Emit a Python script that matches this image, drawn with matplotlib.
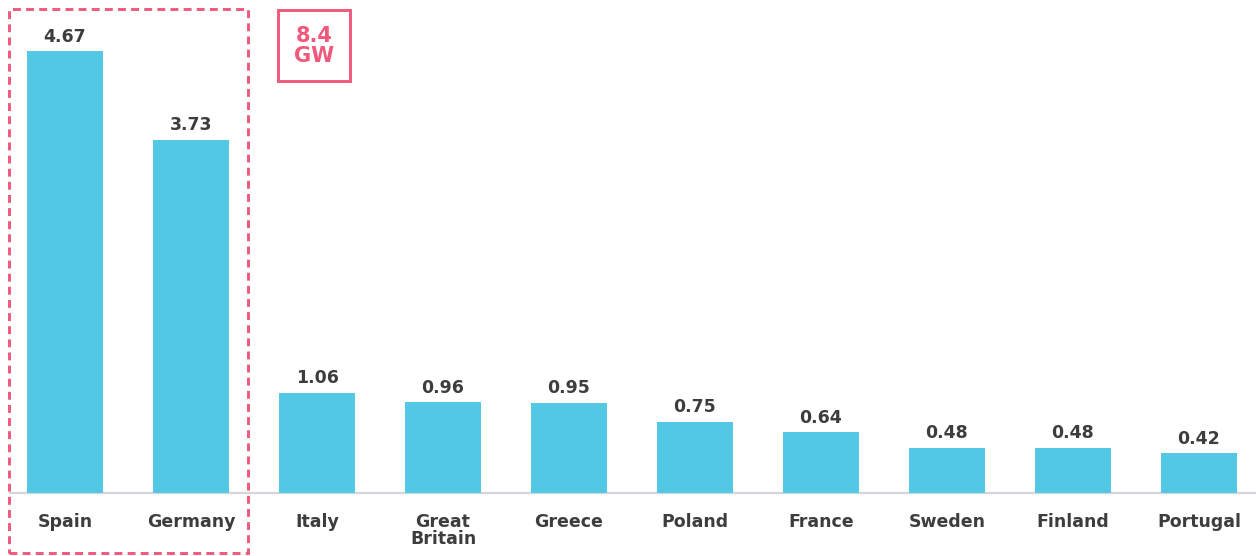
import matplotlib.pyplot as plt
from matplotlib.patches import Rectangle
import numpy as np

paises = ["Spain", "Germany", "Italy", "Great\nBritain", "Greece", "Poland",
          "France", "Sweden", "Finland", "Portugal"]
valores = [4.67, 3.73, 1.06, 0.96, 0.95, 0.75, 0.64, 0.48, 0.48, 0.42]
total_destaque = "8.4\nGW"

azul = "#53c8e4"
rosa = "#f0587c"
texto = "#3d3d3d"

plt.rcParams["font.family"] = ["DejaVu Sans"]

fig = plt.figure(figsize=(12.56, 5.56), dpi=100)
ax = fig.add_axes([0, 63 / 556, 1, 493 / 556])

x = np.arange(len(paises))
barras = ax.bar(x, valores, width=0.6, color=azul, zorder=2)

for xi, v in zip(x, valores):
    ax.text(xi, v + 0.06, f"{v:.2f}", ha="center", va="bottom",
            fontsize=12.5, fontweight="heavy", color=texto)

ax.set_xlim(-65 / 126, (1256 - 65) / 126)
ax.set_ylim(0, 493 / 94.6)
ax.axis("off")

# linha de base
ax.plot([-55 / 126, (1256 - 65) / 126], [0, 0], color="#d3d6dc", lw=1.6,
        zorder=1, clip_on=False)

# nomes dos paises abaixo das barras
for xi, nome in zip(x, paises):
    ax.text(xi, -0.21, nome, ha="center", va="top", fontsize=12.5,
            fontweight="heavy", color=texto, linespacing=0.95)

# caixa tracejada em volta de Espanha e Alemanha
fig.patches.append(Rectangle((9 / 1256, 3 / 556), 239 / 1256, 544 / 556,
                             transform=fig.transFigure, fill=False,
                             edgecolor=rosa, lw=2.1, ls=(0, (2.7, 1.8))))

# caixa com o total
fig.patches.append(Rectangle((278 / 1256, 475 / 556), 72 / 1256, 71 / 556,
                             transform=fig.transFigure, fill=False,
                             edgecolor=rosa, lw=2.1))
fig.text(314 / 1256, 510 / 556, total_destaque, ha="center", va="center",
         fontsize=15, fontweight="heavy", color=rosa, linespacing=1.0)

fig.savefig("out.png", dpi=100)
